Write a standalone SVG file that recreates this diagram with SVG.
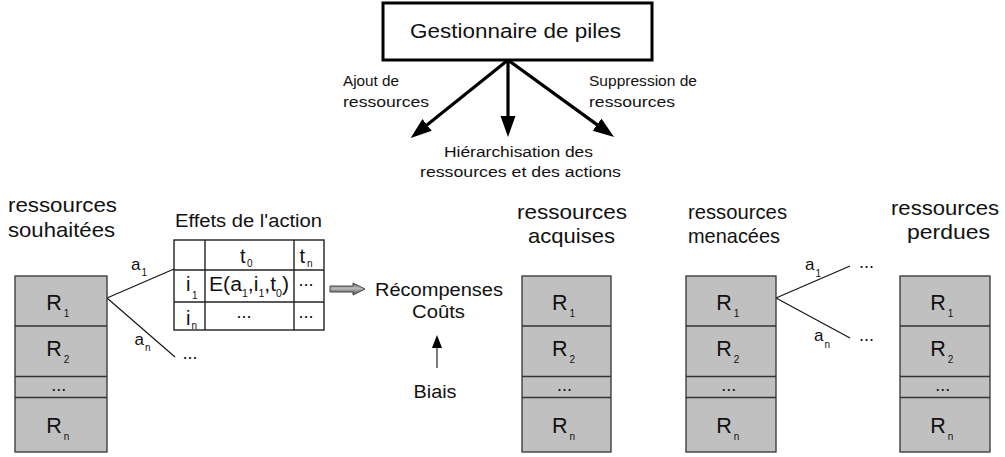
<svg xmlns="http://www.w3.org/2000/svg" width="1005" height="457" viewBox="0 0 1005 457">
  <style>
    text { font-family: "Liberation Sans", Arial, sans-serif; fill: #111; }
    .big { font-size: 21px; }
    .mid { font-size: 15.5px; }
    .cell { font-size: 20px; }
    .lbl { font-size: 18px; }
    .al { font-size: 17px; }
    .res { font-size: 21.5px; }
    .sub { font-size: 10px; }
    .stk { fill: #c0c0c0; stroke: #333; stroke-width: 1.3; }
    .sep { stroke: #333; stroke-width: 1.3; }
    .thin { stroke: #111; stroke-width: 1.1; fill: none; }
    .thick { stroke: #000; stroke-width: 3.2; fill: none; }
    .grid { stroke: #222; stroke-width: 1.4; fill: none; }
  </style>
  <defs>
    <marker id="head" markerUnits="userSpaceOnUse" markerWidth="22" markerHeight="16" refX="5" refY="7.5" orient="auto">
      <path d="M0,0 L21,7.5 L0,15 z" fill="#000"/>
    </marker>
    <marker id="headSmall" markerUnits="userSpaceOnUse" markerWidth="14" markerHeight="10" refX="2" refY="5" orient="auto">
      <path d="M0,0 L13,5 L0,10 z" fill="#000"/>
    </marker>
    <linearGradient id="greyArrow" x1="0" y1="0" x2="0" y2="1">
      <stop offset="0" stop-color="#6e6e6e"/>
      <stop offset="0.45" stop-color="#b8b8b8"/>
      <stop offset="1" stop-color="#505050"/>
    </linearGradient>
  </defs>

  <!-- stack manager -->
  <g id="gestionnaire">
    <rect x="383" y="3" width="269" height="57" fill="#fff" stroke="#000" stroke-width="3"/>
    <text x="410" y="37.5" font-size="20.5" textLength="211" lengthAdjust="spacingAndGlyphs">Gestionnaire de piles</text>
  </g>

  <!-- connectors -->
  <g id="connectors">
    <line class="thick" x1="508" y1="60" x2="423.2" y2="128" marker-end="url(#head)"/>
    <line class="thick" x1="508" y1="60" x2="508" y2="121" marker-end="url(#head)"/>
    <line class="thick" x1="508" y1="60" x2="601.1" y2="127.6" marker-end="url(#head)"/>
    <line class="thin" x1="107" y1="298" x2="174" y2="269"/>
    <line class="thin" x1="107" y1="298" x2="175" y2="357"/>
    <line class="thin" x1="776" y1="298" x2="850" y2="266"/>
    <line class="thin" x1="776" y1="298" x2="850" y2="338"/>
    <line class="thin" x1="437" y1="368" x2="437" y2="346" marker-end="url(#headSmall)"/>
    <path d="M330,286 L353,286 L353,283 L365,289 L353,295 L353,292 L330,292 z" fill="url(#greyArrow)" stroke="#333" stroke-width="0.9"/>
  </g>

  <!-- connector labels -->
  <g id="labels-manager">
    <text class="mid" x="343" y="86" textLength="56" lengthAdjust="spacingAndGlyphs">Ajout de</text>
    <text class="mid" x="343" y="106.5" textLength="86" lengthAdjust="spacingAndGlyphs">ressources</text>
    <text class="mid" x="589" y="86" textLength="108" lengthAdjust="spacingAndGlyphs">Suppression de</text>
    <text class="mid" x="589" y="106.5" textLength="86" lengthAdjust="spacingAndGlyphs">ressources</text>
    <text class="mid" x="444" y="157" textLength="149" lengthAdjust="spacingAndGlyphs">Hiérarchisation des</text>
    <text class="mid" x="420" y="177" textLength="201" lengthAdjust="spacingAndGlyphs">ressources et des actions</text>
  </g>

  <g id="labels-actions">
    <text class="al" x="131" y="270">a<tspan class="sub" dx="1" dy="6">1</tspan></text>
    <text class="al" x="134.5" y="345">a<tspan class="sub" dx="1" dy="5.5">n</tspan></text>
    <text class="lbl" x="182.5" y="359">...</text>
    <text class="al" x="805" y="270">a<tspan class="sub" dx="1" dy="6.5">1</tspan></text>
    <text class="al" x="814" y="341">a<tspan class="sub" dx="1" dy="7">n</tspan></text>
    <text class="lbl" x="859" y="268">...</text>
    <text class="lbl" x="859" y="340.5">...</text>
  </g>

  <!-- desired resources -->
  <g id="souhaitees">
    <text class="big" x="8" y="212" textLength="109" lengthAdjust="spacingAndGlyphs">ressources</text>
    <text class="big" x="8" y="237" textLength="107" lengthAdjust="spacingAndGlyphs">souhaitées</text>
    <rect class="stk" x="15" y="276" width="92" height="176"/>
    <line class="sep" x1="15" y1="326" x2="107" y2="326"/>
    <line class="sep" x1="15" y1="376.5" x2="107" y2="376.5"/>
    <line class="sep" x1="15" y1="397.5" x2="107" y2="397.5"/>
    <text class="res" x="46.3" y="309.5">R<tspan class="sub" dx="2" dy="7">1</tspan></text>
    <text class="res" x="46.3" y="356">R<tspan class="sub" dx="2" dy="7">2</tspan></text>
    <text class="lbl" x="51.3" y="391">...</text>
    <text class="res" x="46.3" y="433">R<tspan class="sub" dx="2" dy="7">n</tspan></text>
  </g>

  <!-- action effects table -->
  <g id="effets">
    <text class="lbl" x="175" y="227" textLength="147" lengthAdjust="spacingAndGlyphs">Effets de l'action</text>
    <rect class="grid" x="174" y="240" width="150" height="90" fill="#fff"/>
    <line class="grid" x1="174" y1="270" x2="324" y2="270"/>
    <line class="grid" x1="174" y1="302" x2="324" y2="302"/>
    <line class="grid" x1="205" y1="240" x2="205" y2="330"/>
    <line class="grid" x1="294" y1="240" x2="294" y2="330"/>
    <text class="cell" x="240" y="263">t<tspan class="sub" dx="1.5" dy="4">0</tspan></text>
    <text class="cell" x="299.5" y="263">t<tspan class="sub" dx="2" dy="4">n</tspan></text>
    <text class="cell" x="186" y="291">i<tspan class="sub" dx="1.5" dy="8">1</tspan></text>
    <text class="cell" x="209" y="291" textLength="80" lengthAdjust="spacingAndGlyphs">E(a<tspan class="sub" dy="6">1</tspan><tspan dy="-6">,i</tspan><tspan class="sub" dy="6">1</tspan><tspan dy="-6">,t</tspan><tspan class="sub" dy="6">0</tspan><tspan dy="-6">)</tspan></text>
    <text class="lbl" x="298.5" y="285.5">...</text>
    <text class="cell" x="186" y="324.5">i<tspan class="sub" dx="1" dy="4">n</tspan></text>
    <text class="lbl" x="236.5" y="317.5">...</text>
    <text class="lbl" x="298.5" y="317.5">...</text>
  </g>

  <!-- rewards and costs -->
  <g id="recompenses">
    <text class="lbl" x="375" y="296" textLength="128" lengthAdjust="spacingAndGlyphs">Récompenses</text>
    <text class="lbl" x="412" y="317.5" textLength="53" lengthAdjust="spacingAndGlyphs">Coûts</text>
  </g>

  <g id="biais">
    <text class="lbl" x="413.5" y="398" textLength="43" lengthAdjust="spacingAndGlyphs">Biais</text>
  </g>

  <!-- acquired resources -->
  <g id="acquises">
    <text class="big" x="517" y="219" textLength="110" lengthAdjust="spacingAndGlyphs">ressources</text>
    <text class="big" x="528" y="243" textLength="87" lengthAdjust="spacingAndGlyphs">acquises</text>
    <rect class="stk" x="522" y="276" width="89" height="176"/>
    <line class="sep" x1="522" y1="326" x2="611" y2="326"/>
    <line class="sep" x1="522" y1="376.5" x2="611" y2="376.5"/>
    <line class="sep" x1="522" y1="397.5" x2="611" y2="397.5"/>
    <text class="res" x="552" y="309.5">R<tspan class="sub" dx="2" dy="7">1</tspan></text>
    <text class="res" x="552" y="356">R<tspan class="sub" dx="2" dy="7">2</tspan></text>
    <text class="lbl" x="557" y="391">...</text>
    <text class="res" x="552" y="433">R<tspan class="sub" dx="2" dy="7">n</tspan></text>
  </g>

  <!-- threatened resources -->
  <g id="menacees">
    <text class="big" x="688" y="219" textLength="99" lengthAdjust="spacingAndGlyphs">ressources</text>
    <text class="big" x="688" y="243" textLength="92" lengthAdjust="spacingAndGlyphs">menacées</text>
    <rect class="stk" x="686" y="276" width="90" height="176"/>
    <line class="sep" x1="686" y1="326" x2="776" y2="326"/>
    <line class="sep" x1="686" y1="376.5" x2="776" y2="376.5"/>
    <line class="sep" x1="686" y1="397.5" x2="776" y2="397.5"/>
    <text class="res" x="716.3" y="309.5">R<tspan class="sub" dx="2" dy="7">1</tspan></text>
    <text class="res" x="716.3" y="356">R<tspan class="sub" dx="2" dy="7">2</tspan></text>
    <text class="lbl" x="721.3" y="391">...</text>
    <text class="res" x="716.3" y="433">R<tspan class="sub" dx="2" dy="7">n</tspan></text>
  </g>

  <!-- lost resources -->
  <g id="perdues">
    <text class="big" x="891" y="215" textLength="108" lengthAdjust="spacingAndGlyphs">ressources</text>
    <text class="big" x="907" y="239" textLength="83" lengthAdjust="spacingAndGlyphs">perdues</text>
    <rect class="stk" x="900" y="276" width="90" height="176"/>
    <line class="sep" x1="900" y1="326" x2="990" y2="326"/>
    <line class="sep" x1="900" y1="376.5" x2="990" y2="376.5"/>
    <line class="sep" x1="900" y1="397.5" x2="990" y2="397.5"/>
    <text class="res" x="930.3" y="309.5">R<tspan class="sub" dx="2" dy="7">1</tspan></text>
    <text class="res" x="930.3" y="356">R<tspan class="sub" dx="2" dy="7">2</tspan></text>
    <text class="lbl" x="935.3" y="391">...</text>
    <text class="res" x="930.3" y="433">R<tspan class="sub" dx="2" dy="7">n</tspan></text>
  </g>
</svg>
